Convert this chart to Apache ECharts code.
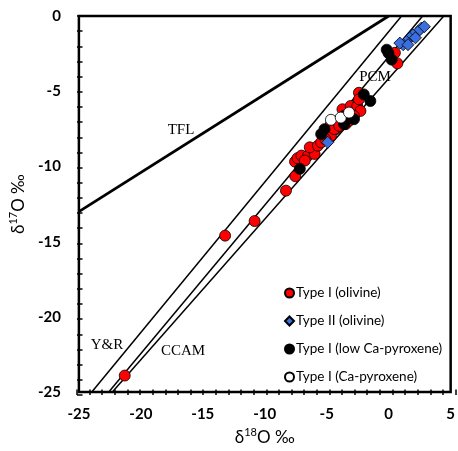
<!DOCTYPE html>
<html><head><meta charset="utf-8">
<script src="https://cdn.jsdelivr.net/npm/echarts@6/dist/echarts.min.js"></script>
<style>html,body{margin:0;padding:0;background:#fff}#c{width:458px;height:451px}</style>
</head><body><div id="c"></div>
<script>
// Reference lines (δ18O, δ17O) endpoints
const tflLine  = [[-25, -13], [0, 0]];
const yrLine   = [[-23.96, -25], [1.04, 0]];
const pcmLine  = [[-22.59, -25], [2.74, 0]];
const ccamLine = [[-22.3, -25], [4.45, 0]];

// Type I (olivine)
const typeIOlivine = [
  [-21.3,-23.9],[-13.20,-14.60],[-10.82,-13.63],[-8.29,-11.61],[-7.54,-10.65],[-7.56,-9.68],
  [-7.36,-9.45],[-7.04,-9.28],[-6.51,-9.28],[-5.98,-9.17],[-6.37,-8.73],[-5.71,-8.62],
  [-5.45,-8.40],[-6.77,-9.61],[-4.66,-7.96],[-4.26,-7.52],[-4.66,-7.19],[-4.13,-6.97],
  [-3.47,-7.19],[-4.39,-7.52],[-3.99,-7.30],[-3.20,-6.97],[-3.73,-6.20],[-3.07,-5.98],
  [-2.54,-5.98],[-2.28,-6.31],[-2.40,-5.10],[-2.40,-5.54],[-2.80,-6.64],[0.50,-2.45],
  [0.70,-3.15],[-5.10,-8.20]
];
// Type II (olivine)
const typeIIOlivine = [
  [2.62,-0.81],[2.36,-1.04],[1.96,-1.25],[1.69,-1.47],[1.43,-1.70],[1.17,-1.91],
  [0.90,-1.80],[1.56,-1.91],[2.88,-0.71],[2.16,-1.45],[-4.92,-8.40]
];
// Type I (low Ca-pyroxene)
const typeILowCaPx = [
  [-7.17,-10.16],[-5.45,-7.85],[-5.18,-7.52],[-3.47,-6.97],[-2.80,-6.86],[-3.60,-6.64],
  [-2.01,-5.21],[-1.48,-5.65],[-0.02,-2.46],[0.24,-2.90],[-0.16,-2.24],[-3.60,-7.19]
];
// Type I (Ca-pyroxene)
const typeICaPx = [[-4.66,-6.90],[-3.87,-6.75],[-3.20,-6.42]];

const chart = echarts.init(document.getElementById('c'), null, {renderer:'canvas'});
const sansBold = {fontFamily:'Lato', fontWeight:'bold', fontSize:15, color:'#000'};
function refLine(data, w){
  return {type:'line', data:data, symbol:'none', silent:true, z:1, xAxisIndex:0, yAxisIndex:0,
    lineStyle:{color:'#000', width:w}, clip:true, animation:false};
}
function scat(name, data, sym, size, color, bw){
  return {type:'scatter', name:name, data:data, symbol:sym, symbolSize:size, z:3, xAxisIndex:0, yAxisIndex:0,
    itemStyle:{color:color, borderColor:'#000', borderWidth:bw, opacity:1}, animation:false};
}
const tickStyle = {color:'#000', width:1.5, type:'solid'};
const nameRich = {rich:{a:{fontFamily:'Lato', fontSize:17, color:'#000'}, s:{fontFamily:'Lato', fontSize:11, color:'#000', padding:[0,0,10,0]}}};
// tick-strip axes: short split lines act as inward ticks
function tickStripAxis(gridIndex, min, max){
  return {type:'value', gridIndex:gridIndex, min:min, max:max, interval:5,
    axisLine:{show:false}, axisLabel:{show:false}, axisTick:{show:false},
    minorTick:{show:false, splitNumber:5},
    splitLine:{show:true, lineStyle:tickStyle}, minorSplitLine:{show:true, lineStyle:tickStyle}};
}
function hiddenAxis(gridIndex){
  return {type:'value', gridIndex:gridIndex, min:0, max:1, show:false};
}
chart.setOption({
  animation:false,
  grid:[
    {left:77, right:2.5, top:16, bottom:56, show:true, borderColor:'#000', borderWidth:2.5, backgroundColor:'transparent'},
    {left:77, right:2.5, bottom:56, height:5.5, show:false},
    {left:77, width:5.5, top:16, bottom:56, show:false}
  ],
  xAxis:[{type:'value', gridIndex:0, min:-25, max:5, interval:5,
    axisLine:{show:false, onZero:false}, splitLine:{show:false}, axisTick:{show:false},
    axisLabel:Object.assign({margin:15}, sansBold),
    name:'{a|δ}{s|18}{a|O ‰}', nameLocation:'middle', nameGap:33, nameTextStyle:nameRich
  }, tickStripAxis(1, -25, 5), hiddenAxis(2)],
  yAxis:[{type:'value', gridIndex:0, min:-25, max:0, interval:5,
    axisLine:{show:false, onZero:false}, splitLine:{show:false}, axisTick:{show:false},
    axisLabel:Object.assign({margin:18}, sansBold),
    name:'{a|δ}{s|17}{a|O ‰}', nameLocation:'middle', nameGap:41, nameRotate:90, nameTextStyle:nameRich
  }, hiddenAxis(1), tickStripAxis(2, -25, 0)],
  legend:{orient:'vertical', left:279, top:281, itemWidth:9, itemHeight:9, itemGap:14,
    textStyle:{fontFamily:'Lato', fontSize:13.5, color:'#000', lineHeight:13, padding:[0,0,0,-3]},
    data:[{name:'Type I (olivine)', icon:'circle'},{name:'Type II (olivine)', icon:'diamond'},
          {name:'Type I (low Ca-pyroxene)', icon:'circle'},{name:'Type I (Ca-pyroxene)', icon:'circle'}]},
  graphic:[
    {type:'text', x:181, y:130, style:{text:'TFL', font:'15px "Liberation Serif"', fill:'#000', align:'center', verticalAlign:'middle'}},
    {type:'text', x:375, y:77, style:{text:'PCM', font:'15px "Liberation Serif"', fill:'#000', align:'center', verticalAlign:'middle'}},
    {type:'text', x:107, y:345, style:{text:'Y&R', font:'15px "Liberation Serif"', fill:'#000', align:'center', verticalAlign:'middle'}},
    {type:'text', x:183, y:351, style:{text:'CCAM', font:'15px "Liberation Serif"', fill:'#000', align:'center', verticalAlign:'middle'}}
  ],
  series:[
    refLine(tflLine, 2.8), refLine(yrLine, 1.5), refLine(pcmLine, 1.5), refLine(ccamLine, 1.5),
    scat('Type I (olivine)', typeIOlivine, 'circle', 11, '#ff0000', 0.8),
    scat('Type II (olivine)', typeIIOlivine, 'diamond', 12, '#3b6fe0', 0.8),
    scat('Type I (low Ca-pyroxene)', typeILowCaPx, 'circle', 11, '#000000', 0.8),
    scat('Type I (Ca-pyroxene)', typeICaPx, 'circle', 11, '#ffffff', 0.8)
  ]
});
</script></body></html>
